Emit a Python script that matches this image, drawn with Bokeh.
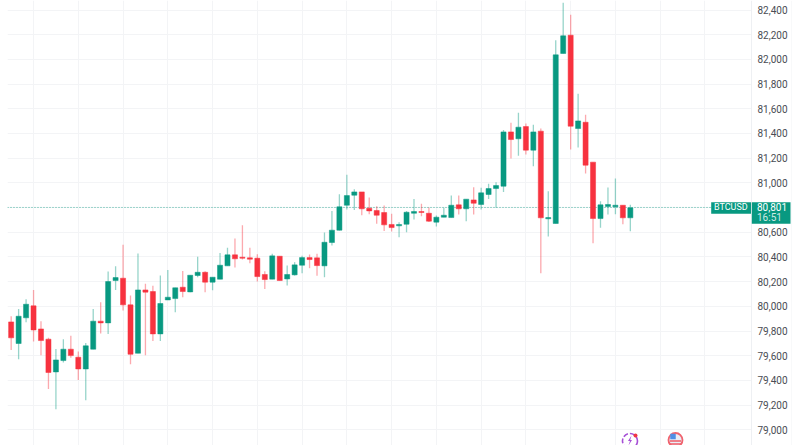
from bokeh.plotting import figure
from bokeh.embed import file_html
from bokeh.resources import INLINE
from bokeh.models import Range1d, FixedTicker, Grid, Span, BoxAnnotation, Label, NumeralTickFormatter, ColumnDataSource, LinearAxis

opens = [79874,79699,79907,80004,79817,79734,79469,79561,79653,79588,79493,79653,79880,79866,80209,80228,80012,79620,80133,80120,
         79777,80052,80063,80155,80117,80250,80276,80196,80220,80328,80417,80398,80393,80390,80258,80220,80406,80222,80255,80333,
         80395,80393,80328,80517,80617,80819,80900,80927,80795,80776,80760,80663,80652,80665,80754,80768,80754,80682,80722,80719,
         80822,80790,80862,80825,80906,80954,80973,81413,81357,81456,81265,81419,80709,80671,82048,82196,81440,81491,81168,80711,
         80808,80806,80819,80717]
highs = [79920,79979,80058,80133,79880,79745,79655,79734,79761,79634,79704,79979,80034,80282,80325,80498,80088,80428,80182,80166,
         80250,80295,80150,80287,80252,80401,80285,80236,80433,80474,80549,80657,80474,80422,80285,80425,80406,80330,80358,80409,
         80420,80425,80598,80773,80908,81065,80949,80927,80881,80811,80816,80749,80682,80773,80870,80830,80800,80735,80798,80897,
         80897,80868,80965,80960,80992,81005,81429,81486,81567,81481,81470,81440,80933,82156,82458,82361,81721,81551,81168,80852,
         80962,81035,80819,80822]
lows = [79647,79572,79871,79715,79604,79331,79167,79545,79583,79404,79240,79653,79780,79777,80133,79966,79531,79620,79604,79720,
        79720,80052,79952,80074,80115,80236,80115,80131,80220,80328,80314,80379,80349,80201,80141,80220,80209,80169,80249,80268,
        80309,80247,80236,80492,80614,80784,80781,80738,80746,80668,80611,80606,80560,80601,80703,80730,80684,80646,80722,80719,
        80744,80690,80744,80784,80870,80798,80927,81197,81219,81230,81135,80268,80565,80671,82048,81270,81286,81076,80511,80636,
        80744,80746,80665,80609]
closes = [79745,79920,80017,79809,79723,79464,79566,79653,79601,79493,79680,79880,79866,80201,80233,80012,79612,80133,80115,79777,
          80023,80074,80150,80120,80252,80276,80196,80236,80333,80417,80385,80390,80382,80241,80217,80409,80209,80258,80336,80395,
          80379,80330,80519,80617,80806,80897,80927,80790,80773,80738,80660,80638,80663,80762,80768,80760,80690,80722,80738,80819,
          80790,80868,80835,80919,80954,80978,81413,81351,81451,81265,81413,80717,80719,82037,82191,81459,81502,81143,80711,80822,
          80825,80819,80717,80798]
price_ticks = [79000,79200,79400,79600,79800,80000,80200,80400,80600,80800,81000,81200,81400,81600,81800,82000,82200,82400]
time_ticks = [3,9,15,21,27,33,39,45,51,57,63,69,75,81,87,93]
symbol = "BTCUSD"
last_price = 80801
last_label = "80,801"
countdown = "16:51"

UP, DOWN = "#089981", "#f7323f"
GRID = "#f3f4f6"
FONT = "Roboto"

idx = list(range(len(opens)))
colors = [UP if c >= o else DOWN for o, c in zip(opens, closes)]
src = ColumnDataSource(dict(x=idx, o=opens, h=highs, l=lows, c=closes, color=colors))

STEP = 7.46
def xd(px): return -0.49 + (px - 7) / STEP
def yd(py): return 78873 + (445 - py) * 8.1

p = figure(width=792, height=445, output_backend="svg", toolbar_location=None,
           x_range=Range1d(xd(7), xd(792)), y_range=Range1d(78873, 82477),
           x_axis_location=None, y_axis_location=None,
           min_border_left=7, min_border_right=0, min_border_top=0, min_border_bottom=0,
           outline_line_color=None, background_fill_color="white", border_fill_color="white",
           margin=(0, 0, 0, 0))

p.grid.visible = False
p.add_layout(Grid(dimension=1, ticker=FixedTicker(ticks=price_ticks), grid_line_color=GRID, grid_line_width=1, level="underlay"))
p.add_layout(Grid(dimension=0, ticker=FixedTicker(ticks=time_ticks), grid_line_color=GRID, grid_line_width=1, level="underlay"))
p.add_layout(Span(location=last_price, dimension="width", line_color=UP, line_dash="1 2", line_width=1, line_alpha=0.75, level="underlay"))
# the price scale sits on a clean white strip
p.add_layout(BoxAnnotation(left=xd(751), right=xd(792), fill_color="white", fill_alpha=1, line_alpha=0, level="underlay"))
p.add_layout(Span(location=xd(791.5), dimension="height", line_color="#f1f2f5", line_width=1, level="underlay"))

ax = LinearAxis(fixed_location=xd(751), ticker=FixedTicker(ticks=price_ticks), formatter=NumeralTickFormatter(format="0,0"))
ax.major_tick_line_color = None
ax.minor_tick_line_color = None
ax.major_tick_in = 0
ax.major_tick_out = 0
ax.minor_tick_out = 0
ax.axis_line_color = "#eef0f3"
ax.major_label_standoff = 6
ax.major_label_text_font = FONT
ax.major_label_text_font_size = "10px"
ax.major_label_text_color = "#4a4d54"
p.add_layout(ax, "right")

p.segment("x", "h", "x", "l", source=src, line_color="color", line_width=1.3, line_alpha=0.42)
p.vbar("x", 0.68, "o", "c", source=src, fill_color="color", line_color="color", line_width=0.5)

# last price tags
for l, r, t, b in [(710.7, 750.5, 201.7, 213.3), (751.3, 790, 201.7, 223.3)]:
    p.add_layout(BoxAnnotation(left=xd(l), right=xd(r), top=yd(t), bottom=yd(b), fill_color=UP, fill_alpha=1,
                               line_alpha=0, level="overlay"))

def tag(text, x, y, color="white", size="9.5px"):
    p.add_layout(Label(x=xd(x), y=yd(y), text=text, text_color=color,
                       text_font=FONT, text_font_size=size, text_baseline="middle", text_align="left", level="overlay"))

tag(symbol, 713.5, 207, size="9px")
tag(last_label, 756.5, 206.5, size="10px")
tag(countdown, 756.5, 217, color="#cfe9e4", size="10px")

# bottom news icons
p.scatter([xd(629.5)], [yd(440.5)], size=15, marker="circle", fill_color=None, line_color="#a64fd6", line_width=1.6, line_dash="5 2")
p.scatter([xd(635)], [yd(435)], size=4, marker="circle", fill_color="#f23645", line_color=None)
p.patch([xd(v) for v in (631, 627.5, 629.5, 628, 631.5, 629.7)], [yd(v) for v in (435, 440.5, 440.5, 445, 439.5, 439.5)], fill_color="#a64fd6", line_color=None)
p.scatter([xd(675)], [yd(439.5)], size=14, marker="circle", fill_color="#e9eef7", line_color="#f0636e", line_width=1.8)
p.scatter([xd(672.5)], [yd(436)], size=5.5, marker="square", fill_color="#4f8fe6", line_color=None)
p.hbar([yd(440.5), yd(443.5)], 1.6 * 8.1, [xd(669.5)] * 2, [xd(680.5)] * 2, fill_color="#f0636e", line_color=None)

open("out.html", "w").write(file_html(p, INLINE))
